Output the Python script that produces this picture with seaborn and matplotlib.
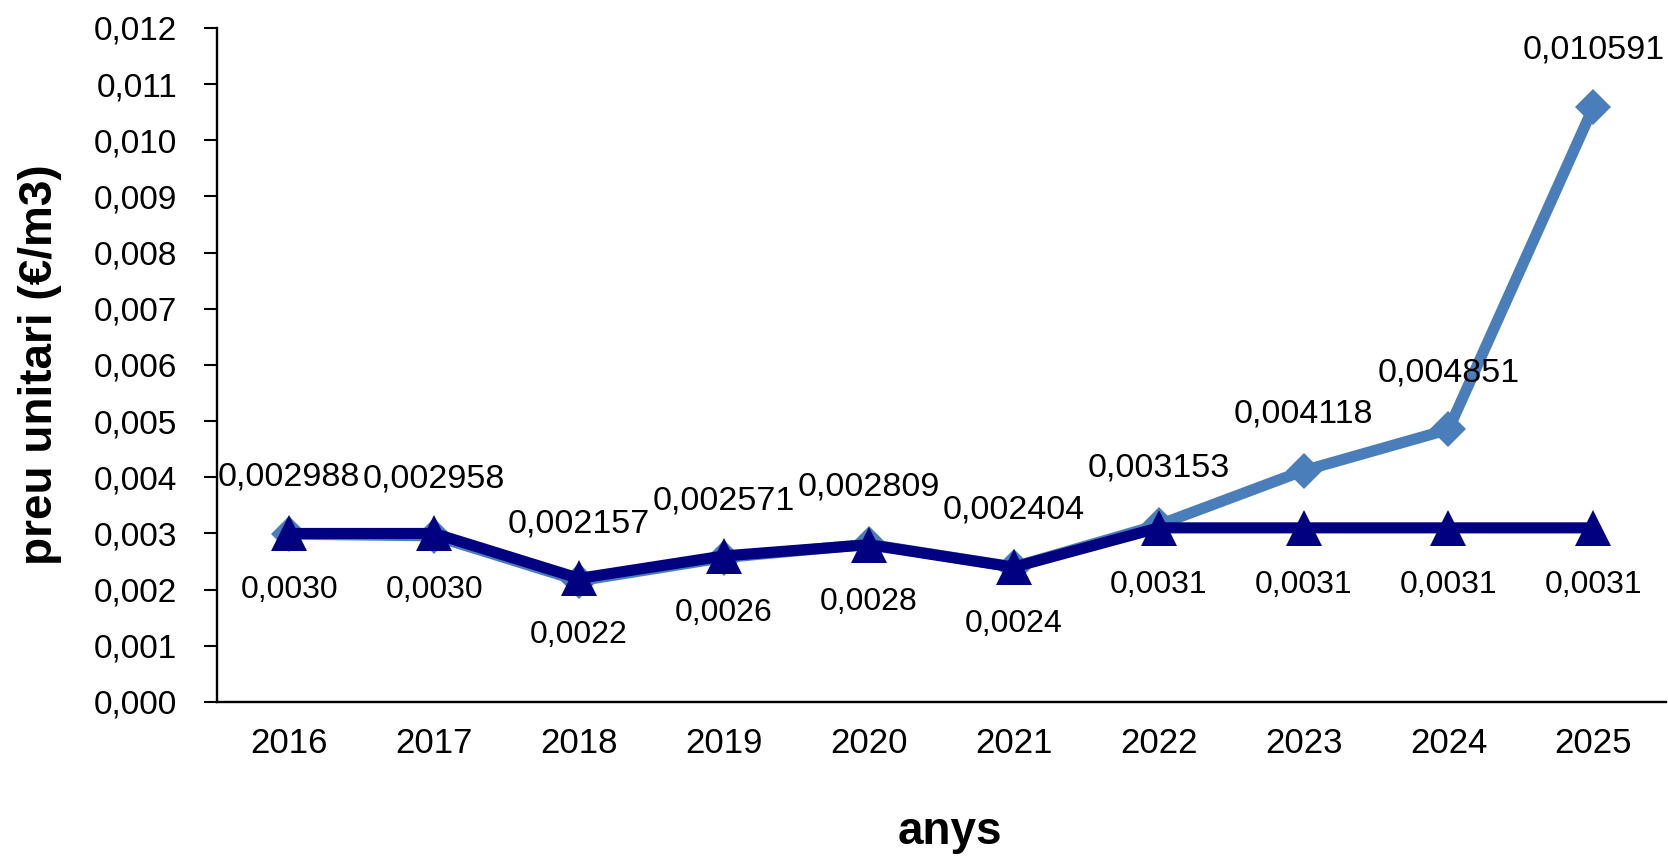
import numpy as np
import pandas as pd
import seaborn as sns
import matplotlib.pyplot as plt
from matplotlib.ticker import FuncFormatter

# preu unitari per any (€/m3)
anys = ['2016', '2017', '2018', '2019', '2020', '2021', '2022', '2023', '2024', '2025']
preu_previst = [0.002988, 0.002958, 0.002157, 0.002571, 0.002809, 0.002404,
                0.003153, 0.004118, 0.004851, 0.010591]
preu_constant = [0.0030, 0.0030, 0.0022, 0.0026, 0.0028, 0.0024,
                 0.0031, 0.0031, 0.0031, 0.0031]
yticks = np.arange(0, 0.0121, 0.001)

sns.set_style('white')
plt.rcParams['font.family'] = ['Liberation Sans', 'DejaVu Sans']
plt.rcParams['text.color'] = 'black'
plt.rcParams['xtick.color'] = 'black'
plt.rcParams['ytick.color'] = 'black'
plt.rcParams['axes.labelcolor'] = 'black'

df = pd.DataFrame({'pos': np.arange(len(anys)), 'any': anys,
                   'previst': preu_previst, 'constant': preu_constant})

fig = plt.figure(figsize=(16.68, 8.63), dpi=100)
ax = fig.add_axes([0.130, 0.1866, 0.8687, 0.781])

sns.lineplot(data=df, x='pos', y='previst', ax=ax, color='#4a7ebb', lw=8,
             marker='D', markersize=18, markeredgewidth=0)
sns.lineplot(data=df, x='pos', y='constant', ax=ax, color='#000080', lw=8,
             marker='^', markersize=26, markeredgewidth=0)

for i, v in enumerate(preu_previst):
    ax.annotate(f'{v:.6f}'.replace('.', ','), (i, v), xytext=(0, 41),
                textcoords='offset points', ha='center', va='center', fontsize=24.5)
for i, v in enumerate(preu_constant):
    ax.annotate(f'{v:.4f}'.replace('.', ','), (i, v), xytext=(0, -41),
                textcoords='offset points', ha='center', va='center', fontsize=23)

ax.set_xlim(-0.5, 9.5)
ax.set_ylim(0, 0.012)
ax.set_yticks(yticks)
ax.yaxis.set_major_formatter(FuncFormatter(lambda y, p: f'{y:.3f}'.replace('.', ',')))
ax.set_xticks(df['pos'])
ax.set_xticklabels(anys, fontsize=25)
ax.set_xticks(np.arange(-0.5, 9.6, 1), minor=True)
ax.tick_params(axis='x', which='major', length=0, pad=18)
ax.tick_params(axis='x', which='minor', length=9.4, width=1.5)
ax.tick_params(axis='y', length=9.4, width=1.5, labelsize=24, pad=19, left=True)
for s in ['top', 'right']:
    ax.spines[s].set_visible(False)
for s in ['left', 'bottom']:
    ax.spines[s].set_color('black')
    ax.spines[s].set_linewidth(1.7)

ax.set_xlabel('anys', fontsize=33, fontweight='bold')
ax.set_ylabel('preu unitari (€/m3)', fontsize=33, fontweight='bold')
ax.xaxis.set_label_coords(0.506, -0.160)
ax.yaxis.set_label_coords(-0.107, 0.5)

plt.savefig('out.png', dpi=100)
